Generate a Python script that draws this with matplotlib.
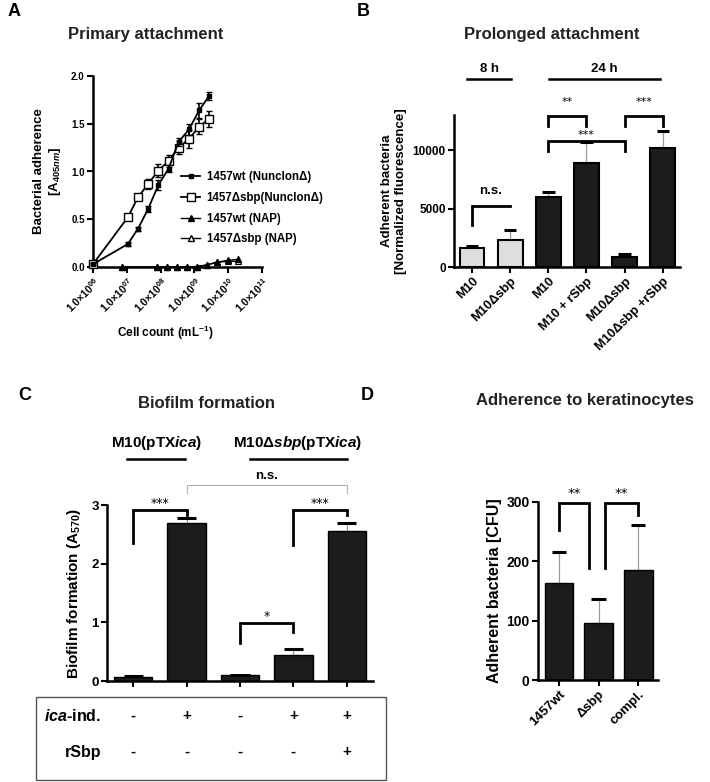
import matplotlib
matplotlib.use("Agg")
import matplotlib.pyplot as plt
from matplotlib.lines import Line2D
from matplotlib.patches import Rectangle

plt.rcParams['font.family'] = ['Liberation Sans', 'DejaVu Sans']
plt.rcParams['font.weight'] = 'bold'
plt.rcParams['axes.labelweight'] = 'bold'
plt.rcParams['axes.linewidth'] = 1.8
plt.rcParams['mathtext.fontset'] = 'custom'
plt.rcParams['mathtext.rm'] = 'Liberation Sans:bold'
plt.rcParams['mathtext.bf'] = 'Liberation Sans:bold'
plt.rcParams['mathtext.it'] = 'Liberation Sans:italic:bold'

# ---------------- data ----------------
# Panel A
cell_count = [1e6, 1.07e7, 2.14e7, 4.3e7, 8.6e7, 1.72e8, 3.4e8, 6.9e8, 1.38e9, 2.7e9]
wt_nunc = [0.03, 0.24, 0.40, 0.61, 0.86, 1.03, 1.31, 1.44, 1.64, 1.79]
wt_nunc_err = [0.01, 0.02, 0.02, 0.03, 0.05, 0.04, 0.04, 0.06, 0.08, 0.04]
sbp_nunc = [0.03, 0.52, 0.73, 0.87, 1.01, 1.11, 1.25, 1.34, 1.47, 1.55]
sbp_nunc_err = [0.01, 0.02, 0.03, 0.05, 0.07, 0.06, 0.07, 0.09, 0.08, 0.08]
cell_count_nap = [7.2e6, 7.8e7, 1.55e8, 3.0e8, 5.9e8, 1.17e9, 2.3e9, 4.6e9, 1.0e10, 2.0e10]
wt_nap = [0.0, 0.0, 0.0, 0.0, 0.0, 0.005, 0.02, 0.05, 0.07, 0.08]
sbp_nap = [0.0, 0.0, 0.0, 0.0, 0.0, 0.005, 0.02, 0.05, 0.06, 0.06]
a_xticks = [1e6, 1e7, 1e8, 1e9, 1e10, 1e11]
a_xticklabels = [r'1.0$\times$10$^{06}$', r'1.0$\times$10$^{07}$', r'1.0$\times$10$^{08}$',
                 r'1.0$\times$10$^{09}$', r'1.0$\times$10$^{10}$', r'1.0$\times$10$^{11}$']
a_legend = ['1457wt (NunclonΔ)', '1457Δsbp(NunclonΔ)', '1457wt (NAP)', '1457Δsbp (NAP)']

# Panel B
b_labels = ['M10', 'M10Δsbp', 'M10', 'M10 + rSbp', 'M10Δsbp', 'M10Δsbp +rSbp']
b_values = [1590, 2310, 6010, 8900, 870, 10170]
b_err = [230, 870, 440, 1800, 200, 1450]
b_colors = ['#dedede', '#dedede', '#1c1c1c', '#1c1c1c', '#1c1c1c', '#1c1c1c']

# Panel C
c_values = [0.07, 2.70, 0.10, 0.45, 2.56]
c_err = [0.01, 0.07, 0.01, 0.09, 0.13]
c_ica = ['-', '+', '-', '+', '+']
c_rsbp = ['-', '-', '-', '-', '+']

# Panel D
d_labels = ['1457wt', 'Δsbp', 'compl.']
d_values = [164, 96, 185]
d_err = [52, 40, 77]

fig = plt.figure(figsize=(7.1, 7.82), dpi=100)
W, H = 710.0, 782.0


def ax_px(l, r, b, t):
    return fig.add_axes([l / W, 1 - b / H, (r - l) / W, (b - t) / H])


def style(ax):
    ax.spines['top'].set_visible(False)
    ax.spines['right'].set_visible(False)
    ax.tick_params(direction='out', length=4, width=1.5, colors='black', labelsize=8.5, pad=2)


def caps(ax, xs, vals, errs, w, lw=2.2):
    for x, v, e in zip(xs, vals, errs):
        ax.vlines(x, v, v + e, color='#9a9a9a', lw=0.9, zorder=1)
        ax.hlines(v + e, x - w / 2, x + w / 2, color='black', lw=lw, zorder=3)


def bracket(ax, x1, x2, y, yl, yr, text, ty, color='black', lw=2.0, fs=8, tc='black'):
    ax.plot([x1, x1, x2, x2], [yl, y, y, yr], color=color, lw=lw, clip_on=False,
            solid_joinstyle='miter', zorder=4)
    ax.text((x1 + x2) / 2, ty, text, ha='center', va='center', fontsize=fs, color=tc,
            fontweight='normal' if text.startswith('*') else 'bold',
            family='DejaVu Sans' if text.startswith('*') else None)


# ---------------- Panel A ----------------
axA = ax_px(93, 262, 267, 76)
style(axA)
axA.set_xscale('log')
axA.set_xlim(1e6, 1e11)
axA.set_ylim(0, 2.0)
axA.set_yticks([0, 0.5, 1.0, 1.5, 2.0])
axA.set_yticklabels(['0.0', '0.5', '1.0', '1.5', '2.0'], fontsize=7)
axA.set_xticks(a_xticks)
axA.set_xticklabels(a_xticklabels, rotation=45, ha='right', rotation_mode='anchor', fontsize=7.5)
axA.xaxis.set_minor_locator(matplotlib.ticker.NullLocator())
axA.errorbar(cell_count, sbp_nunc, yerr=sbp_nunc_err, color='black', lw=1.3, marker='s',
             ms=5.8, mfc='white', mec='black', mew=1.0, capsize=2.5, elinewidth=1.2, zorder=3, clip_on=False)
axA.errorbar(cell_count, wt_nunc, yerr=wt_nunc_err, color='black', lw=1.3, marker='s',
             ms=3.4, mfc='black', mec='black', capsize=2.5, elinewidth=1.2, zorder=4, clip_on=False)
axA.plot(cell_count_nap, sbp_nap, color='black', lw=1.0, marker='^', ms=4.8, mfc='white',
         mec='black', mew=0.8, zorder=5, clip_on=False)
axA.plot(cell_count_nap, wt_nap, color='black', lw=1.0, marker='^', ms=3.8, mfc='black',
         mec='black', zorder=5, clip_on=False)
axA.set_ylabel('Bacterial adherence\n[A$_{405nm}$]', fontsize=9.5, labelpad=6)
fig.text(165 / W, 1 - 333 / H, 'Cell count (mL$^{-1}$)', ha='center', va='center',
         fontsize=8.5, fontweight='bold')
handles = [
    Line2D([], [], color='black', lw=1.3, marker='s', ms=3.4, mfc='black'),
    Line2D([], [], color='black', lw=1.3, marker='s', ms=5.8, mfc='white'),
    Line2D([], [], color='black', lw=1.0, marker='^', ms=3.8, mfc='black'),
    Line2D([], [], color='black', lw=1.0, marker='^', ms=4.8, mfc='white'),
]
fig.legend(handles, a_legend, loc='upper left', bbox_to_anchor=(171 / W, 1 - 161 / H),
           frameon=False, handlelength=1.6, handletextpad=0.6, labelspacing=0.75,
           prop={'weight': 'bold', 'size': 8.3})
fig.text(146 / W, 1 - 35 / H, 'Primary attachment', ha='center', va='center', fontsize=12,
         fontweight='bold', color='#222222')
fig.text(8 / W, 1 - 12 / H, 'A', ha='left', va='center', fontsize=13, fontweight='bold')

# ---------------- Panel B ----------------
axB = ax_px(454, 680, 267, 115)
style(axB)
xb = list(range(len(b_values)))
axB.bar(xb, b_values, width=0.65, color=b_colors, edgecolor='black', linewidth=1.5, zorder=2)
caps(axB, xb, b_values, b_err, 0.33)
axB.set_xlim(-0.47, 5.45)
axB.set_ylim(0, 13000)
axB.set_yticks([0, 5000, 10000])
axB.set_yticklabels(['0', '5000', '10000'], fontsize=8.5)
axB.set_xticks(xb)
axB.set_xticklabels(b_labels, rotation=45, ha='right', rotation_mode='anchor', fontsize=9.3)
axB.set_ylabel('Adherent bacteria\n[Normalized fluorescence]', fontsize=9.5, labelpad=4)
bracket(axB, 0, 1, 5200, 3600, 5200, 'n.s.', 6500, fs=9.5)
bracket(axB, 2, 3, 12950, 12100, 12100, '**', 14100)
bracket(axB, 2, 4, 10750, 9950, 9950, '***', 11300)
bracket(axB, 4, 5, 12950, 12100, 12100, '***', 14100)
fig.text(489 / W, 1 - 69 / H, '8 h', ha='center', va='center', fontsize=9.5, fontweight='bold')
fig.add_artist(Line2D([467 / W, 511 / W], [1 - 79 / H, 1 - 79 / H], color='black', lw=1.8))
fig.text(604 / W, 1 - 69 / H, '24 h', ha='center', va='center', fontsize=9.5, fontweight='bold')
fig.add_artist(Line2D([549 / W, 660 / W], [1 - 79 / H, 1 - 79 / H], color='black', lw=1.8))
fig.text(552 / W, 1 - 35 / H, 'Prolonged attachment', ha='center', va='center', fontsize=12,
         fontweight='bold', color='#222222')
fig.text(357 / W, 1 - 12 / H, 'B', ha='left', va='center', fontsize=13, fontweight='bold')

# ---------------- Panel C ----------------
axC = ax_px(107, 373, 681, 505)
style(axC)
xc = list(range(len(c_values)))
axC.bar(xc, c_values, width=0.72, color='#1c1c1c', edgecolor='black', linewidth=1.0, zorder=2)
caps(axC, xc, c_values, c_err, 0.36)
axC.set_xlim(-0.49, 4.49)
axC.set_ylim(0, 3)
axC.set_yticks([0, 1, 2, 3])
axC.set_yticklabels(['0', '1', '2', '3'], fontsize=9.5)
axC.set_xticks(xc)
axC.set_xticklabels([])
axC.set_ylabel('Biofilm formation (A$_{570}$)', fontsize=11, labelpad=6)
bracket(axC, 0, 1, 2.91, 2.35, 2.83, '***', 3.03, fs=9)
bracket(axC, 2, 3, 0.99, 0.64, 0.84, '*', 1.1, fs=9)
bracket(axC, 3, 4, 2.91, 2.32, 2.83, '***', 3.03, fs=9)
bracket(axC, 1, 4, 3.34, 3.2, 3.2, 'n.s.', 3.5, color='#b0b0b0', lw=0.8, fs=9.5)
fig.text(157 / W, 1 - 443 / H, 'M10(pTX$\\it{ica}$)', ha='center', va='center',
         fontsize=11, fontweight='bold')
fig.add_artist(Line2D([127 / W, 185 / W], [1 - 459 / H, 1 - 459 / H], color='black', lw=1.8))
fig.text(298 / W, 1 - 443 / H, 'M10Δ$\\it{sbp}$(pTX$\\it{ica}$)', ha='center',
         va='center', fontsize=11, fontweight='bold')
fig.add_artist(Line2D([250 / W, 347 / W], [1 - 459 / H, 1 - 459 / H], color='black', lw=1.8))
fig.text(206 / W, 1 - 403 / H, 'Biofilm formation', ha='center', va='center', fontsize=12,
         fontweight='bold', color='#222222')
fig.text(25 / W, 1 - 395 / H, 'C', ha='center', va='center', fontsize=13, fontweight='bold')
# table
fig.add_artist(Rectangle((36 / W, 1 - 780 / H), (386 - 36) / W, (780 - 697) / H,
                         transform=fig.transFigure, fill=False, edgecolor='#555555', lw=1.0))
fig.text(101 / W, 1 - 716 / H, '$\\it{ica}$-ind.', ha='right', va='center',
         fontsize=11.5, fontweight='bold')
fig.text(101 / W, 1 - 752 / H, 'rSbp', ha='right', va='center', fontsize=11.5, fontweight='bold')
for i, (s1, s2) in enumerate(zip(c_ica, c_rsbp)):
    xf = axC.transData.transform((xc[i], 0))[0] / fig.dpi / fig.get_figwidth()
    fig.text(xf, 1 - 716 / H, s1, ha='center', va='center', fontsize=11, fontweight='bold')
    fig.text(xf, 1 - 752 / H, s2, ha='center', va='center', fontsize=11, fontweight='bold')

# ---------------- Panel D ----------------
axD = ax_px(538, 658, 680, 502)
style(axD)
xd = list(range(len(d_values)))
axD.bar(xd, d_values, width=0.73, color='#1c1c1c', edgecolor='black', linewidth=1.0, zorder=2)
caps(axD, xd, d_values, d_err, 0.36)
axD.set_xlim(-0.53, 2.5)
axD.set_ylim(0, 300)
axD.set_yticks([0, 100, 200, 300])
axD.set_yticklabels(['0', '100', '200', '300'], fontsize=10)
axD.set_xticks(xd)
axD.set_xticklabels(d_labels, rotation=45, ha='right', rotation_mode='anchor', fontsize=9.5)
axD.set_ylabel('Adherent bacteria [CFU]', fontsize=11.5, labelpad=3)
bracket(axD, 0, 0.76, 299, 253, 188, '**', 314, fs=9.5)
bracket(axD, 1.17, 2, 299, 188, 278, '**', 314, fs=9.5)
fig.text(585 / W, 1 - 400 / H, 'Adherence to keratinocytes', ha='center', va='center',
         fontsize=12, fontweight='bold', color='#222222')
fig.text(367 / W, 1 - 395 / H, 'D', ha='center', va='center', fontsize=13, fontweight='bold')

fig.savefig('out.png', dpi=100)
